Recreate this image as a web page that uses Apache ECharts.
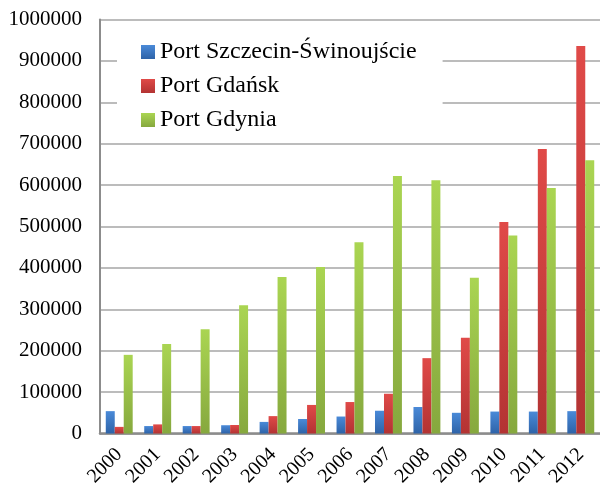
<!DOCTYPE html>
<html>
<head>
<meta charset="utf-8">
<script src="https://cdn.jsdelivr.net/npm/echarts@6/dist/echarts.min.js"></script>
<style>html,body{margin:0;padding:0;background:#fff;}#c{width:600px;height:493px;}</style>
</head>
<body>
<div id="c"></div>
<script>
var categories = ['2000','2001','2002','2003','2004','2005','2006','2007','2008','2009','2010','2011','2012'];
var seriesNames = ['Port Szczecin-Świnoujście', 'Port Gdańsk', 'Port Gdynia'];
var szczecin = [54000, 18000, 18000, 20000, 28000, 35000, 41000, 55000, 64000, 50000, 53000, 53000, 54000];
var gdansk = [16000, 22000, 18000, 20500, 42000, 69000, 76000, 96000, 182000, 231000, 511000, 687000, 936000];
var gdynia = [190000, 216000, 252000, 310000, 378000, 402000, 462000, 622000, 612000, 376000, 478000, 593000, 660000];

function grad(top, bottom) {
  return new echarts.graphic.LinearGradient(0, 0, 0, 1, [
    {offset: 0, color: top}, {offset: 1, color: bottom}
  ]);
}
var font = 'Liberation Serif, Times New Roman, serif';
var chart = echarts.init(document.getElementById('c'), null, {renderer: 'canvas'});
chart.setOption({
  animation: false,
  backgroundColor: '#ffffff',
  grid: {left: 100, right: -2, top: 19.5, bottom: 59.5, containLabel: false},
  legend: {
    orient: 'vertical',
    left: 117, top: 25,
    padding: [15, 26, 5, 24],
    backgroundColor: '#ffffff',
    itemWidth: 14, itemHeight: 14, itemGap: 10,
    icon: 'rect',
    textStyle: {fontFamily: font, fontSize: 24, color: '#000', lineHeight: 24},
    data: seriesNames
  },
  xAxis: {
    type: 'category',
    data: categories,
    axisLine: {lineStyle: {color: '#8c8c8c', width: 2.5}},
    axisTick: {show: false},
    axisLabel: {interval: 0, rotate: 45, margin: 18, fontFamily: font, fontSize: 20, color: '#000'}
  },
  yAxis: {
    type: 'value',
    min: 0, max: 1000000, interval: 100000,
    axisLine: {show: true, lineStyle: {color: '#8c8c8c', width: 2}},
    axisTick: {show: false},
    splitLine: {lineStyle: {color: '#a6a6a6', width: 1.5}},
    axisLabel: {margin: 18, fontFamily: font, fontSize: 21, color: '#000',
                formatter: function (v) { return String(v); }}
  },
  series: [
    {name: seriesNames[0], type: 'bar', data: szczecin, barGap: '0%', barCategoryGap: '30%',
     itemStyle: {color: grad('#4a8ad8', '#2e63a8')}},
    {name: seriesNames[1], type: 'bar', data: gdansk, barGap: '0%', barCategoryGap: '30%',
     itemStyle: {color: grad('#e04a48', '#b33333')}},
    {name: seriesNames[2], type: 'bar', data: gdynia, barGap: '0%', barCategoryGap: '30%',
     itemStyle: {color: grad('#aad552', '#86a83e')}}
  ]
});
</script>
</body>
</html>
